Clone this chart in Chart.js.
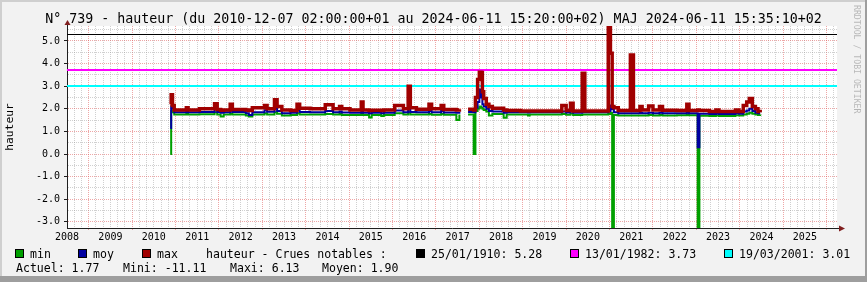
<!DOCTYPE html>
<html>
<head>
<meta charset="utf-8">
<script src="https://cdn.jsdelivr.net/npm/chart.js@4.4.1/dist/chart.umd.min.js"></script>
<style>
  html, body { margin: 0; padding: 0; background: #f2f2f2; }
  canvas { display: block; }
</style>
</head>
<body>
<canvas id="chart" width="867" height="282"></canvas>
<script>
// Time in decimal years, one step per entry (value holds until next entry)
const t = [
  2010.38, 2010.40, 2010.43, 2010.47, 2010.75, 2010.79, 2011.05, 2011.40, 2011.46, 2011.54, 2011.61,
  2011.76, 2011.81, 2012.12, 2012.19, 2012.27, 2012.55, 2012.61, 2012.78, 2012.84, 2012.95, 2013.15,
  2013.30, 2013.36, 2013.60, 2013.95, 2014.13, 2014.28, 2014.33, 2014.52, 2014.78, 2014.82, 2014.96,
  2015.02, 2015.24, 2015.30, 2015.55, 2015.75, 2015.86, 2015.91, 2016.05, 2016.34, 2016.40, 2016.62,
  2016.68, 2016.97, 2017.04, 2017.17, 2017.24, 2017.37, 2017.41, 2017.46, 2017.50, 2017.54, 2017.57,
  2017.60, 2017.66, 2017.72, 2017.80, 2018.06, 2018.13, 2018.45, 2018.62, 2018.66, 2019.40, 2019.50,
  2019.60, 2019.66, 2019.87, 2019.93, 2020.47, 2020.52, 2020.56, 2020.60, 2020.70, 2020.98, 2021.05,
  2021.20, 2021.25, 2021.40, 2021.50, 2021.65, 2021.72, 2022.05, 2022.28, 2022.33, 2022.53, 2022.57,
  2022.80, 2022.95, 2023.02, 2023.40, 2023.48, 2023.58, 2023.66, 2023.72, 2023.79, 2023.86, 2023.92, 2023.97
];

const minVals = [
  0.00, 1.90, 1.85, 1.75, 1.77, 1.75, 1.76, 1.85, 1.75, 1.66, 1.75,
  1.78, 1.75, 1.70, 1.66, 1.75, 1.80, 1.75, 1.85, 1.78, 1.70, 1.72,
  1.80, 1.75, 1.75, 1.77, 1.75, 1.77, 1.73, 1.72, 1.80, 1.73, 1.62,
  1.73, 1.68, 1.73, 1.80, 1.75, 1.85, 1.75, 1.75, 1.77, 1.74, 1.77,
  1.74, 1.50, 1.75, null, 1.75, 0.00, 1.90, 2.00, 2.10, 2.05, 2.00,
  1.95, 1.88, 1.70, 1.77, 1.60, 1.75, 1.75, 1.70, 1.75, 1.77, 1.74,
  1.79, 1.73, 1.75, 1.75, 1.77, 1.83, -11.11, 1.72, 1.70, 1.70, 1.70,
  1.70, 1.70, 1.72, 1.70, 1.72, 1.70, 1.71, 1.72, 1.71, -9.40, 1.69,
  1.68, 1.70, 1.68, 1.71, 1.70, 1.75, 1.78, 1.83, 1.78, 1.75, 1.73, 1.75
];

const moyVals = [
  1.15, 2.10, 2.00, 1.85, 1.87, 1.85, 1.86, 2.00, 1.86, 1.82, 1.85,
  1.92, 1.86, 1.80, 1.73, 1.85, 1.93, 1.87, 2.05, 1.90, 1.80, 1.82,
  1.95, 1.86, 1.85, 1.90, 1.85, 1.88, 1.84, 1.82, 1.92, 1.83, 1.80,
  1.82, 1.80, 1.83, 1.92, 1.85, 2.10, 1.86, 1.85, 1.90, 1.85, 1.90,
  1.84, 1.82, 1.86, null, 1.86, 1.85, 2.05, 2.30, 2.85, 2.50, 2.20,
  2.10, 2.00, 1.90, 1.88, 1.82, 1.85, 1.85, 1.84, 1.85, 1.88, 1.84,
  1.92, 1.83, 1.85, 1.85, 1.90, 2.15, 1.98, 1.85, 1.80, 1.80, 1.80,
  1.82, 1.80, 1.82, 1.80, 1.82, 1.80, 1.80, 1.82, 1.80, 0.30, 1.78,
  1.77, 1.78, 1.77, 1.80, 1.78, 1.88, 1.92, 2.00, 1.90, 1.83, 1.80, 1.80
];

const maxVals = [
  2.20, 2.62, 2.15, 1.95, 2.05, 1.95, 2.00, 2.22, 1.97, 1.93, 1.95,
  2.20, 1.97, 1.95, 1.92, 2.05, 2.15, 2.00, 2.40, 2.10, 1.95, 1.92,
  2.20, 2.02, 2.00, 2.18, 2.00, 2.10, 2.00, 1.95, 2.30, 1.95, 1.92,
  1.93, 1.92, 1.95, 2.15, 2.00, 3.00, 2.05, 1.98, 2.20, 2.00, 2.15,
  1.97, 1.95, 1.98, null, 1.98, 1.95, 2.50, 3.30, 3.62, 3.60, 2.75,
  2.45, 2.20, 2.10, 2.02, 1.95, 1.92, 1.90, 1.90, 1.90, 2.15, 1.92,
  2.25, 1.90, 3.57, 1.90, 6.13, 4.45, 2.10, 2.05, 1.92, 4.38, 1.92,
  2.10, 1.95, 2.12, 1.95, 2.10, 1.93, 1.92, 2.20, 1.92, 1.95, 1.92,
  1.88, 1.95, 1.88, 1.95, 1.88, 2.15, 2.30, 2.45, 2.10, 2.00, 1.88, 1.85
];

// Notable floods (horizontal rules)
const crueDates = ['25/01/1910', '13/01/1982', '19/03/2001'];
const crueLevels = [5.28, 3.73, 3.01];
const crueColors = ['#000000', '#ff00ff', '#00ffff'];

const seriesNames = ['min', 'moy', 'max'];
const seriesColors = ['#00a000', '#0000a0', '#a00000'];

const statLabels = ['Actuel', 'Mini', 'Maxi', 'Moyen'];
const statValues = ['1.77', '-11.11', '6.13', '1.90'];

const years = [2008, 2009, 2010, 2011, 2012, 2013, 2014, 2015, 2016, 2017,
               2018, 2019, 2020, 2021, 2022, 2023, 2024, 2025];
const yTicks = [-3.0, -2.5, -2.0, -1.5, -1.0, -0.5, 0.0, 0.5, 1.0, 1.5,
                2.0, 2.5, 3.0, 3.5, 4.0, 4.5, 5.0, 5.5];

const titleText = 'N° 739 - hauteur (du 2010-12-07 02:00:00+01 au 2024-06-11 15:20:00+02) MAJ 2024-06-11 15:35:10+02';

const xMin = 2008.0, xMax = 2025.74;
const yMin = -3.27, yMax = 5.66;

const MONO = '"DejaVu Sans Mono", monospace';
const GRID = 'rgba(150,150,150,0.45)';
const MGRID = 'rgba(222,79,79,0.5)';
const AXIS = '#1f1f1f';
const ARROW = '#801f1f';

// x ticks every two months, labels on Jan 1, major grid mid-year
let xTicks = [];
for (const y of years) {
    for (let k = 0; k < 6; k++) {
        const v = y + k / 6;
        if (v <= xMax) xTicks.push(v);
    }
}
const xPart = v => Math.round((v - Math.floor(v + 1e-6)) * 6);

function series(vals, color, width) {
    return {
        data: t.map((x, i) => ({ x: x, y: vals[i] })),
        borderColor: color,
        backgroundColor: color,
        borderWidth: width,
        stepped: true,
        pointRadius: 0,
        spanGaps: false,
        fill: false,
        clip: 0
    };
}

const datasets = [
    series(maxVals, seriesColors[2], 3.5),
    series(moyVals, seriesColors[1], 2),
    series(minVals, seriesColors[0], 2)
];

// Frame, canvas, HRULEs, title, arrows and rrdtool style legend
const rrdLook = {
    id: 'rrdLook',
    beforeDraw(chart) {
        const { ctx, chartArea: a, width, height } = chart;
        ctx.save();
        ctx.fillStyle = '#f2f2f2';
        ctx.fillRect(0, 0, width, height);
        ctx.fillStyle = '#cfcfcf';
        ctx.fillRect(0, 0, width, 2);
        ctx.fillRect(0, 0, 2, height);
        ctx.fillStyle = '#9e9e9e';
        ctx.fillRect(0, height - 6, width, 6);
        ctx.fillRect(width - 2, 0, 2, height);
        ctx.fillStyle = '#ffffff';
        ctx.fillRect(a.left, a.top, a.right - a.left, a.bottom - a.top);
        ctx.restore();
    },
    beforeDatasetsDraw(chart) {
        const { ctx, chartArea: a } = chart;
        const yScale = chart.scales.y;
        ctx.save();
        ctx.setLineDash([]);
        crueLevels.forEach((lvl, i) => {
            const p = yScale.getPixelForValue(lvl);
            // black rule thin, coloured ones a bit wider so they read like the original
            const py = i === 0 ? Math.floor(p) + 0.5 : Math.round(p);
            ctx.lineWidth = i === 0 ? 1 : 2;
            ctx.strokeStyle = crueColors[i];
            ctx.beginPath();
            ctx.moveTo(a.left, py);
            ctx.lineTo(a.right, py);
            ctx.stroke();
        });
        ctx.restore();
    },
    afterDraw(chart) {
        const { ctx, chartArea: a, width } = chart;
        ctx.save();

        // axis extension + arrows
        ctx.strokeStyle = AXIS;
        ctx.lineWidth = 1;
        ctx.beginPath();
        ctx.moveTo(a.right, a.bottom + 0.5);
        ctx.lineTo(a.right + 5, a.bottom + 0.5);
        ctx.moveTo(a.left + 0.5, a.top);
        ctx.lineTo(a.left + 0.5, a.top - 2);
        ctx.stroke();
        ctx.fillStyle = ARROW;
        ctx.beginPath();
        ctx.moveTo(a.right + 2, a.bottom - 2.5);
        ctx.lineTo(a.right + 8, a.bottom + 0.5);
        ctx.lineTo(a.right + 2, a.bottom + 3.5);
        ctx.closePath();
        ctx.fill();
        ctx.beginPath();
        ctx.moveTo(a.left - 2.5, a.top - 1);
        ctx.lineTo(a.left + 0.5, a.top - 6);
        ctx.lineTo(a.left + 3.5, a.top - 1);
        ctx.closePath();
        ctx.fill();

        // title
        ctx.fillStyle = '#000';
        ctx.font = '13.3px ' + MONO;
        ctx.textAlign = 'center';
        ctx.textBaseline = 'alphabetic';
        ctx.fillText(titleText, width / 2, 23);

        // watermark
        ctx.save();
        ctx.translate(854, 5);
        ctx.rotate(Math.PI / 2);
        ctx.fillStyle = 'rgba(0,0,0,0.25)';
        ctx.font = '8.2px ' + MONO;
        ctx.textAlign = 'left';
        ctx.fillText('RRDTOOL / TOBI OETIKER', 0, 0);
        ctx.restore();

        // legend
        ctx.font = '11.55px ' + MONO;
        ctx.textAlign = 'left';
        const box = (x, color) => {
            ctx.fillStyle = color;
            ctx.fillRect(x, 249, 9, 9);
            ctx.strokeStyle = '#000';
            ctx.lineWidth = 1;
            ctx.strokeRect(x + 0.5, 249.5, 8, 8);
        };
        const row1 = 258, row2 = 272;
        const sx = [15, 78, 142];
        seriesNames.forEach((n, i) => {
            box(sx[i], seriesColors[i]);
            ctx.fillStyle = '#000';
            ctx.fillText(n, sx[i] + 15, row1);
        });
        ctx.fillText('hauteur - Crues notables :', 206, row1);
        const cx = [416, 570, 724];
        crueDates.forEach((d, i) => {
            box(cx[i], crueColors[i]);
            ctx.fillStyle = '#000';
            ctx.fillText(d + ': ' + crueLevels[i].toFixed(2), cx[i] + 15, row1);
        });
        const stx = [16, 123, 230, 322];
        statLabels.forEach((l, i) => {
            ctx.fillText(l + ': ' + statValues[i], stx[i], row2);
        });
        ctx.restore();
    }
};

new Chart(document.getElementById('chart'), {
    type: 'line',
    data: { datasets: datasets },
    plugins: [rrdLook],
    options: {
        responsive: false,
        animation: false,
        devicePixelRatio: 1,
        layout: { padding: { left: 0, top: 26, right: 30, bottom: 34 } },
        plugins: {
            legend: { display: false },
            tooltip: { enabled: false },
            title: { display: false }
        },
        scales: {
            x: {
                type: 'linear',
                min: xMin,
                max: xMax,
                afterFit(scale) { scale.height = 20; },
                afterBuildTicks(scale) { scale.ticks = xTicks.map(v => ({ value: v })); },
                ticks: {
                    autoSkip: false,
                    maxRotation: 0,
                    padding: 1,
                    color: '#000',
                    font: { family: MONO, size: 10 },
                    callback: v => xPart(v) === 0 ? String(Math.round(v)) : ''
                },
                grid: {
                    color: c => xPart(c.tick.value) === 3 ? MGRID : GRID,
                    tickColor: c => xPart(c.tick.value) === 3 ? MGRID : 'rgba(0,0,0,0)',
                    tickLength: 2,
                    lineWidth: 1
                },
                border: { color: AXIS, width: 1, dash: [1, 1] }
            },
            y: {
                type: 'linear',
                min: yMin,
                max: yMax,
                afterFit(scale) { scale.width = 67; },
                afterBuildTicks(scale) { scale.ticks = yTicks.map(v => ({ value: v })); },
                ticks: {
                    autoSkip: false,
                    padding: 4,
                    color: '#000',
                    font: { family: MONO, size: 10 },
                    callback: v => Number.isInteger(v) ? v.toFixed(1) : ''
                },
                grid: {
                    color: c => Number.isInteger(c.tick.value) ? MGRID : GRID,
                    tickColor: c => Number.isInteger(c.tick.value) ? AXIS : 'rgba(0,0,0,0)',
                    tickLength: 3,
                    lineWidth: 1
                },
                border: { color: AXIS, width: 1, dash: [1, 1] },
                title: {
                    display: true,
                    text: 'hauteur',
                    color: '#000',
                    font: { family: MONO, size: 11.3 },
                    padding: { top: 3, bottom: 0 }
                }
            }
        }
    }
});
</script>
</body>
</html>
